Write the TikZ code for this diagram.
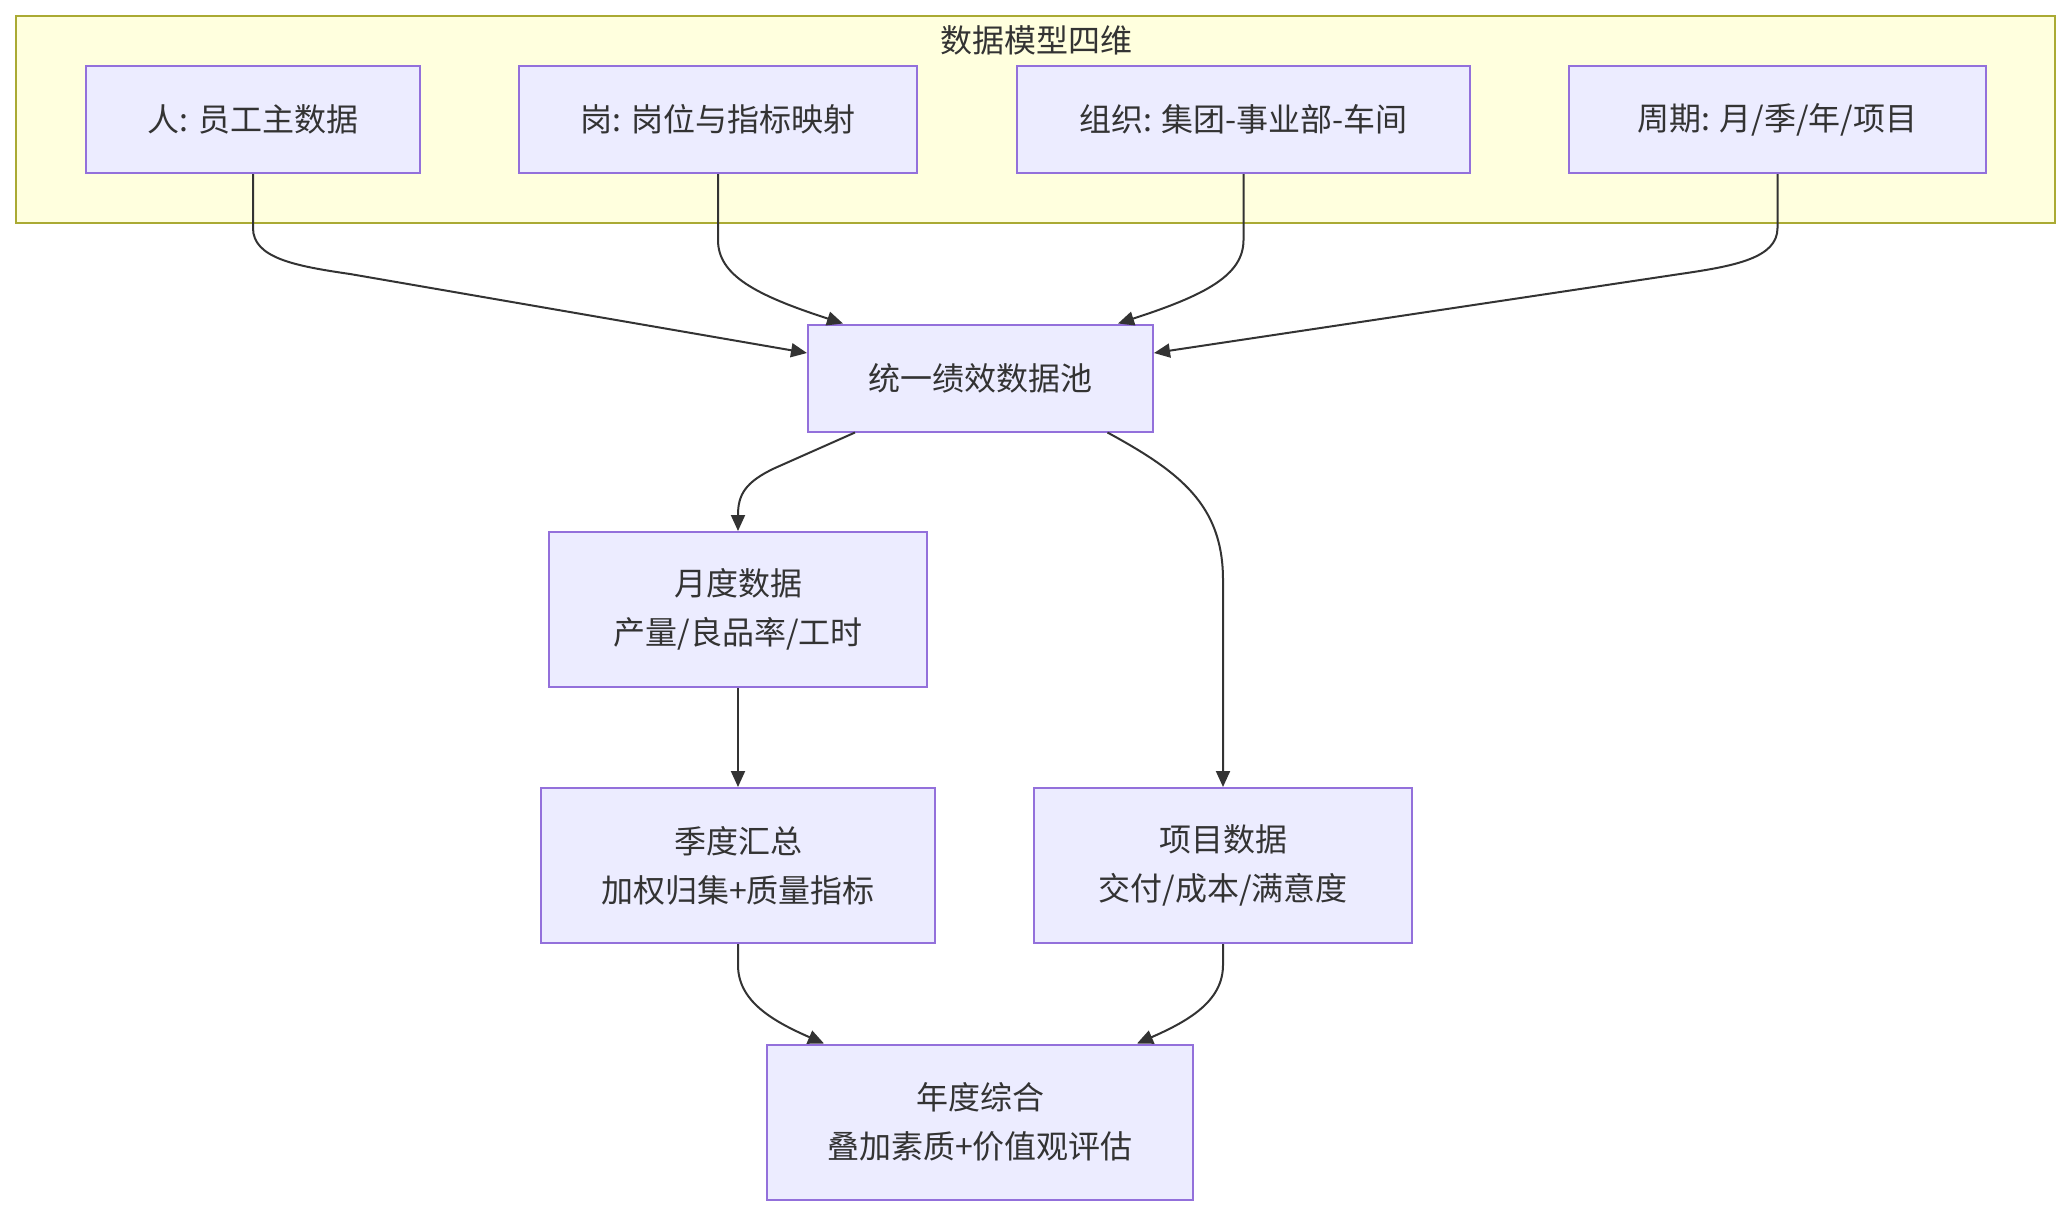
\documentclass[tikz,border=0pt]{standalone}
\usepackage{fontspec}
\setmainfont{Noto Sans CJK SC}
\usetikzlibrary{arrows.meta,calc}
\definecolor{nodefill}{HTML}{ECECFF}
\definecolor{nodeline}{HTML}{9370DB}
\definecolor{clusterfill}{HTML}{FFFFDE}
\definecolor{clusterline}{HTML}{AAAA33}
\definecolor{inkgray}{HTML}{333333}
\tikzset{
  databox/.style={draw=nodeline, fill=nodefill, line width=1pt, text=inkgray,
    align=center, inner sep=0pt, minimum height=53.5pt,
    font=\fontsize{16pt}{24.5pt}\selectfont},
  twoline/.style={databox, minimum height=77.5pt},
  flow/.style={draw=inkgray, line width=1pt, -{Triangle[length=8pt,width=7pt]}}
}
\begin{document}
\begin{tikzpicture}[x=0.5pt, y=-0.5pt]
  \useasboundingbox (0,0) rectangle (2071,1216);
  % Cluster
  \draw[draw=clusterline, fill=clusterfill, line width=1pt] (16,16) rectangle (2055,223);
  \node[text=inkgray, font=\fontsize{16pt}{24.5pt}\selectfont] (title) at (1036,40) {数据模型四维};

  % Four dimensions
  \node[databox, minimum width=167pt] (ren) at (253,119.5) {人: 员工主数据};
  \node[databox, minimum width=199pt] (gang) at (718,119.5) {岗: 岗位与指标映射};
  \node[databox, minimum width=226.5pt] (zuzhi) at (1243.5,119.5) {组织: 集团-事业部-车间};
  \node[databox, minimum width=208.5pt] (zhouqi) at (1777.5,119.5) {周期: 月/季/年/项目};

  % Pool and periods
  \node[databox, minimum width=172.5pt] (pool) at (980.5,378) {统一绩效数据池};
  \node[twoline, minimum width=189pt] (monthly) at (738,609.5) {月度数据\\产量/良品率/工时};
  \node[twoline, minimum width=197pt] (quarterly) at (738,865.5) {季度汇总\\加权归集+质量指标};
  \node[twoline, minimum width=189pt] (project) at (1223,865.5) {项目数据\\交付/成本/满意度};
  \node[twoline, minimum width=213pt] (annual) at (980,1122) {年度综合\\叠加素质+价值观评估};

  % Into the pool
  \draw[flow] (ren.south) -- (253,228) .. controls (253,258) and (295,266) .. (350,274) -- ($(pool.west)+(0,-25)$);
  \draw[flow] (gang.south) -- (718,240) .. controls (718,275) and (755,295) .. ($(pool.north)+(-137.5,0)$);
  \draw[flow] (zuzhi.south) -- (1243.5,240) .. controls (1243.5,275) and (1206,295) .. ($(pool.north)+(137.5,0)$);
  \draw[flow] (zhouqi.south) -- (1777.5,228) .. controls (1777.5,258) and (1735,266) .. (1680,274) -- ($(pool.east)+(0,-25)$);

  % Out of the pool
  \draw[flow] ($(pool.south)+(-125.5,0)$) -- (775,468) .. controls (745,482) and (738,495) .. (738,515) -- (monthly.north);
  \draw[flow] ($(pool.south)+(127,0)$) .. controls (1180,472) and (1223,505) .. (1223,580) -- (project.north);
  \draw[flow] (monthly.south) -- (quarterly.north);
  \draw[flow] (quarterly.south) -- (738,965) .. controls (738,1000) and (770,1020) .. ($(annual.north)+(-156,0)$);
  \draw[flow] (project.south) -- (1223,965) .. controls (1223,1000) and (1191,1020) .. ($(annual.north)+(157,0)$);
\end{tikzpicture}
\end{document}
